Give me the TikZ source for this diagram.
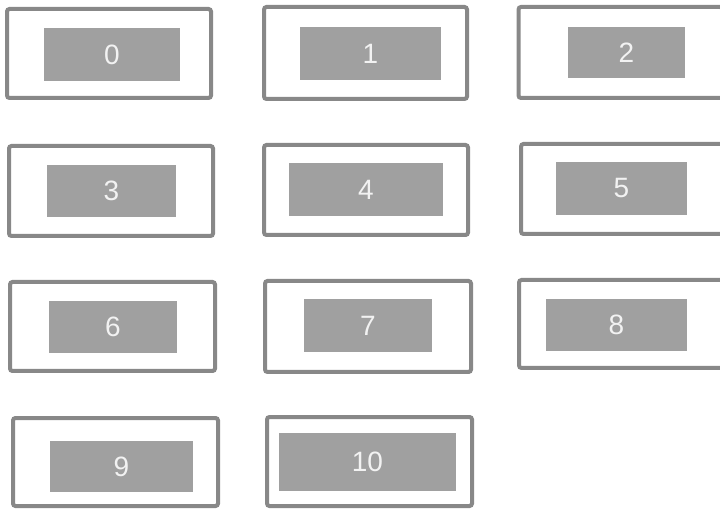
\documentclass[tikz,border=0pt]{standalone}
\usepackage{fontspec}
\setmainfont{Liberation Sans}
\definecolor{framegray}{HTML}{888888}
\definecolor{fillgray}{HTML}{A0A0A0}
\definecolor{labelwhite}{HTML}{F2F2F2}
\begin{document}
\begin{tikzpicture}[x=1pt,y=-1pt,
  outerbox/.style={draw=framegray, line width=4pt, rounded corners=2.5pt, inner sep=0pt},
  innerbox/.style={fill=fillgray, draw=none, inner sep=0pt, text=labelwhite,
    font=\fontsize{28}{28}\selectfont}]
\useasboundingbox (0,0) rectangle (720,510);
\clip (0,0) rectangle (720,510);
% outer frames
\node[outerbox, minimum width=204pt, minimum height=89pt] (o0) at (109,53.5) {};
\node[outerbox, minimum width=203pt, minimum height=92pt] (o1) at (365.5,53) {};
\node[outerbox, minimum width=204pt, minimum height=91pt] (o2) at (620.5,52.5) {};
\node[outerbox, minimum width=204pt, minimum height=90pt] (o3) at (111,191) {};
\node[outerbox, minimum width=204pt, minimum height=90pt] (o4) at (366,190) {};
\node[outerbox, minimum width=204pt, minimum height=90pt] (o5) at (623,189) {};
\node[outerbox, minimum width=205pt, minimum height=89pt] (o6) at (112.5,326.5) {};
\node[outerbox, minimum width=206pt, minimum height=91pt] (o7) at (368,326.5) {};
\node[outerbox, minimum width=204pt, minimum height=88pt] (o8) at (621,324) {};
\node[outerbox, minimum width=205pt, minimum height=88pt] (o9) at (115.5,462) {};
\node[outerbox, minimum width=205pt, minimum height=89pt] (o10) at (369.5,461.5) {};
% inner labelled boxes
\node[innerbox, minimum width=136pt, minimum height=53pt] (i0) at (112,54.5) {0};
\node[innerbox, minimum width=141pt, minimum height=53pt] (i1) at (370.5,53.5) {1};
\node[innerbox, minimum width=117pt, minimum height=51pt] (i2) at (626.5,52.5) {2};
\node[innerbox, minimum width=129pt, minimum height=52pt] (i3) at (111.5,191) {3};
\node[innerbox, minimum width=154pt, minimum height=53pt] (i4) at (366,189.5) {4};
\node[innerbox, minimum width=131pt, minimum height=53pt] (i5) at (621.5,188.5) {5};
\node[innerbox, minimum width=128pt, minimum height=52pt] (i6) at (113,327) {6};
\node[innerbox, minimum width=128pt, minimum height=53pt] (i7) at (368,325.5) {7};
\node[innerbox, minimum width=141pt, minimum height=52pt] (i8) at (616.5,325) {8};
\node[innerbox, minimum width=143pt, minimum height=51pt] (i9) at (121.5,466.5) {9};
\node[innerbox, minimum width=177pt, minimum height=58pt] (i10) at (367.5,462) {10};
\end{tikzpicture}
\end{document}
